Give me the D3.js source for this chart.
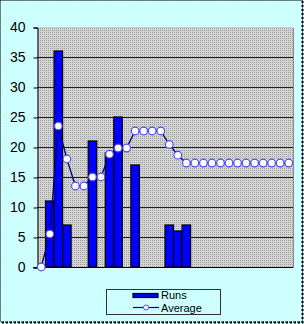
<!DOCTYPE html>
<html lang="en">
<head>
<meta charset="utf-8">
<title>Runs and Average</title>
<script src="https://cdn.jsdelivr.net/npm/d3@7" charset="utf-8"></script>
<style type="text/css">
  body { margin: 0; background: #fff; }
  svg text {
    font-family: 'Liberation Sans', Arial, sans-serif;
    fill: #000;
  }
</style>
</head>
<body>
  <div id="chart"></div>

  <script type="text/javascript">
  // one entry per innings, 30 slots on the category axis
  let innings = d3.range(30);
  let runs = [0, 11, 36, 7, 0, 0, 21, 0, 19, 25, 0, 17, 0, 0, 0, 7, 6, 7,
              0, 0, 0, 0, 0, 0, 0, 0, 0, 0, 0, 0];
  let average = [0, 5.5, 23.5, 18, 13.5, 13.5, 15, 15, 18.8, 19.83, 19.83, 22.67,
                 22.67, 22.67, 22.67, 20.43, 18.63, 17.33, 17.33, 17.33, 17.33,
                 17.33, 17.33, 17.33, 17.33, 17.33, 17.33, 17.33, 17.33, 17.33];
  let yTicks = [0, 5, 10, 15, 20, 25, 30, 35, 40];
  let seriesNames = ["Runs", "Average"];

  let width = 304;
  let height = 324;
  let margin = {top: 27, right: 11, bottom: 57, left: 37};

  const svg = d3.select("#chart").append("svg")
      .attr("width", width)
      .attr("height", height)
      .attr("viewBox", [0, 0, width, height]);

  const defs = svg.append("defs");

  // cyan background with faint dots
  const bgPat = defs.append("pattern")
      .attr("id", "bgDots")
      .attr("width", 6).attr("height", 6)
      .attr("patternUnits", "userSpaceOnUse");
  bgPat.append("rect").attr("width", 6).attr("height", 6).attr("fill", "#ccffff");
  bgPat.append("rect").attr("x", 1).attr("y", 1).attr("width", 1).attr("height", 1).attr("fill", "#ecffff");
  bgPat.append("rect").attr("x", 4).attr("y", 4).attr("width", 1).attr("height", 1).attr("fill", "#ecffff");

  // grey plot area, fine dotted
  const plotPat = defs.append("pattern")
      .attr("id", "plotDots")
      .attr("width", 2).attr("height", 2)
      .attr("patternUnits", "userSpaceOnUse");
  plotPat.append("rect").attr("width", 2).attr("height", 2).attr("fill", "#d2d2d2");
  plotPat.append("rect").attr("width", 1).attr("height", 1).attr("fill", "#a4a4a4");

  svg.append("rect")
      .attr("x", 0).attr("y", 0)
      .attr("width", width).attr("height", height)
      .attr("fill", "url(#bgDots)");

  // outer frame: dotted
  svg.append("rect")
      .attr("x", 0.5).attr("y", 0.5)
      .attr("width", width - 2).attr("height", height - 2.5)
      .attr("fill", "none")
      .attr("stroke", "#000")
      .attr("stroke-width", 1)
      .attr("stroke-dasharray", "1,1");
  svg.append("path")
      .attr("d", `M${width - 1.5},1 V${height - 1.5} H1`)
      .attr("fill", "none")
      .attr("stroke", "#000")
      .attr("stroke-width", 2)
      .attr("stroke-dasharray", "2,2");

  let x = d3.scaleBand()
      .domain(innings)
      .range([margin.left, width - margin.right])
      .padding(0);

  let y = d3.scaleLinear()
      .domain([0, 40])
      .range([height - margin.bottom, margin.top]);

  let plotW = width - margin.right - margin.left;
  let plotH = height - margin.bottom - margin.top;

  // plot area + shadow on right edge
  svg.append("rect")
      .attr("x", margin.left + 1).attr("y", margin.top + 1)
      .attr("width", plotW).attr("height", plotH)
      .attr("fill", "#8a8a8a");
  svg.append("rect")
      .attr("x", margin.left).attr("y", margin.top)
      .attr("width", plotW).attr("height", plotH)
      .attr("fill", "url(#plotDots)");

  // gridlines
  svg.append("g")
      .selectAll("line")
      .data(yTicks.filter(d => d > 0 && d < 40))
      .enter()
      .append("line")
        .attr("x1", margin.left).attr("x2", width - margin.right)
        .attr("y1", d => Math.round(y(d)) + 0.5)
        .attr("y2", d => Math.round(y(d)) + 0.5)
        .attr("stroke", "#222")
        .attr("stroke-width", 1);

  // y axis
  const yAxis = svg.append("g")
      .attr("transform", `translate(${margin.left + 0.5},0.5)`)
      .call(d3.axisLeft(y).tickValues(yTicks).tickSize(4).tickPadding(8));
  yAxis.select(".domain").attr("stroke", "#000");
  yAxis.selectAll(".tick line").attr("stroke", "#000");
  yAxis.selectAll(".tick text")
      .attr("font-size", 14)
      .attr("font-family", "'Liberation Sans', Arial, sans-serif")
      .attr("fill", "#000");

  // x axis base line
  svg.append("line")
      .attr("x1", margin.left - 4).attr("x2", width - margin.right)
      .attr("y1", y(0) + 0.5).attr("y2", y(0) + 0.5)
      .attr("stroke", "#000");

  // bars
  svg.append("g")
      .selectAll("rect")
      .data(innings.filter(i => runs[i] > 0))
      .enter()
      .append("rect")
        .attr("x", i => x(i))
        .attr("y", i => y(runs[i]))
        .attr("width", x.bandwidth())
        .attr("height", i => y(0) - y(runs[i]))
        .attr("fill", "#0000ff")
        .attr("stroke", "#000")
        .attr("stroke-width", 1.2);

  // average line
  let line = d3.line()
      .x(i => x(i) + x.bandwidth() / 2)
      .y(i => y(average[i]));

  svg.append("path")
      .datum(innings)
      .attr("d", line)
      .attr("fill", "none")
      .attr("stroke", "#000080")
      .attr("stroke-width", 1.3);

  svg.append("g")
      .selectAll("circle")
      .data(innings)
      .enter()
      .append("circle")
        .attr("cx", i => x(i) + x.bandwidth() / 2)
        .attr("cy", i => y(average[i]))
        .attr("r", 3.8)
        .attr("fill", "#fff")
        .attr("stroke", "#4d4dff")
        .attr("stroke-width", 1.2);

  // legend
  const legend = svg.append("g").attr("transform", "translate(106,289)");
  legend.append("rect")
      .attr("x", 0.5).attr("y", 0.5)
      .attr("width", 114).attr("height", 25)
      .attr("fill", "url(#bgDots)")
      .attr("stroke", "#333");
  legend.append("rect")
      .attr("x", 27).attr("y", 4.5)
      .attr("width", 25).attr("height", 4)
      .attr("fill", "#0000ff")
      .attr("stroke", "#000")
      .attr("stroke-width", 1.2);
  legend.append("line")
      .attr("x1", 27).attr("x2", 53)
      .attr("y1", 18.5).attr("y2", 18.5)
      .attr("stroke", "#000080")
      .attr("stroke-width", 1.2);
  legend.append("circle")
      .attr("cx", 40).attr("cy", 18.5).attr("r", 2.5)
      .attr("fill", "#fff")
      .attr("stroke", "#4d4dff");
  legend.selectAll("text.lbl")
      .data(seriesNames)
      .enter()
      .append("text")
        .attr("class", "lbl")
        .attr("x", 55)
        .attr("y", (d, i) => 10 + i * 13)
        .attr("font-size", 11)
        .attr("fill", "#333")
        .text(d => d);
  </script>
</body>
</html>
